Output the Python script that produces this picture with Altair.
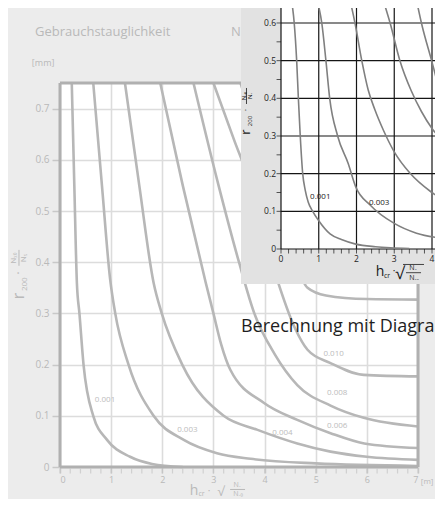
import altair as alt
import pandas as pd

# ---------------- background diagram (faded "Gebrauchstauglichkeit") ----------------
bg_curve_names = ["0.001", "0.003", "0.004", "0.006", "0.008", "0.010", "0.015"]
bg_x = [
    [0.23, 0.28, 0.33, 0.38, 0.46, 0.65, 0.92, 1.37, 1.80, 2.40],
    [0.65, 0.82, 0.98, 1.08, 1.34, 1.83, 2.42, 3.07, 3.73, 5.00, 7.00],
    [1.27, 1.55, 1.83, 1.99, 2.39, 3.20, 3.85, 4.64, 5.29, 6.00, 7.00],
    [1.96, 2.40, 2.85, 3.00, 3.15, 3.33, 3.99, 4.64, 5.29, 5.95, 7.00],
    [2.61, 3.10, 3.50, 3.80, 4.20, 4.64, 5.29, 5.94, 7.00],
    [3.00, 3.40, 3.73, 4.00, 4.30, 4.60, 4.84, 5.29, 5.94, 7.00],
    [3.53, 4.00, 4.30, 4.60, 4.84, 5.20, 6.00, 7.00],
]
bg_y = [
    [0.75, 0.55, 0.36, 0.30, 0.20, 0.10, 0.053, 0.020, 0.006, 0.0],
    [0.75, 0.55, 0.367, 0.30, 0.20, 0.10, 0.053, 0.027, 0.016, 0.007, 0.002],
    [0.75, 0.55, 0.36, 0.30, 0.20, 0.10, 0.073, 0.046, 0.030, 0.020, 0.014],
    [0.75, 0.55, 0.36, 0.30, 0.24, 0.19, 0.125, 0.092, 0.066, 0.046, 0.037],
    [0.75, 0.55, 0.40, 0.30, 0.22, 0.16, 0.12, 0.096, 0.079],
    [0.75, 0.64, 0.55, 0.45, 0.35, 0.27, 0.229, 0.203, 0.18, 0.177],
    [0.75, 0.60, 0.50, 0.40, 0.35, 0.335, 0.328, 0.327],
]
bg_label_text = ["0.001", "0.003", "0.004", "0.006", "0.008", "0.010"]
bg_label_x = [0.88, 2.49, 4.35, 5.42, 5.42, 5.35]
bg_label_y = [0.131, 0.073, 0.067, 0.080, 0.145, 0.220]
bg_x_ticks = [0, 1, 2, 3, 4, 5, 6, 7]
bg_y_ticks = [0, 0.1, 0.2, 0.3, 0.4, 0.5, 0.6, 0.7]
bg_minor_x = [round(i * 0.2, 1) for i in range(36)]
bg_x_domain = [0, 7]
bg_y_domain = [0, 0.75]

# ---------------- inset diagram (sharp) ----------------
in_curve_names = ["0.001", "0.003", "0.004", "0.006", "0.008"]
in_x = [
    [0.28, 0.35, 0.415, 0.46, 0.51, 0.575, 0.64, 0.72, 0.84, 1.00, 1.30, 1.60, 1.98, 2.50, 2.90, 3.40],
    [0.96, 1.08, 1.19, 1.29, 1.50, 1.78, 1.98, 2.36, 3.00, 3.59, 4.30],
    [1.83, 1.96, 2.14, 2.31, 2.49, 2.71, 3.00, 3.42, 3.97, 4.30],
    [2.71, 2.89, 3.15, 3.45, 3.72, 4.00, 4.30],
    [3.59, 3.72, 3.99, 4.26, 4.40],
]
in_y = [
    [0.66, 0.60, 0.50, 0.40, 0.30, 0.20, 0.157, 0.125, 0.10, 0.075, 0.040, 0.025, 0.013, 0.006, 0.003, 0.001],
    [0.66, 0.60, 0.50, 0.40, 0.30, 0.227, 0.165, 0.117, 0.068, 0.042, 0.028],
    [0.66, 0.60, 0.50, 0.422, 0.369, 0.316, 0.258, 0.201, 0.152, 0.13],
    [0.66, 0.60, 0.50, 0.42, 0.365, 0.32, 0.285],
    [0.66, 0.60, 0.50, 0.40, 0.36],
]
in_label_text = ["0.001", "0.003"]
in_label_x = [0.77, 2.33]
in_label_y = [0.138, 0.123]
in_grid_x = [0, 1, 2, 3, 4]
in_grid_y = [0, 0.1, 0.2, 0.3, 0.4, 0.5, 0.6, 0.7]
in_tick_label_x = ["0", "1", "2", "3", "4"]
in_tick_label_y = ["0", "0.1", "0.2", "0.3", "0.4", "0.5", "0.6"]
in_minor_x = [round(i * 0.2, 1) for i in range(23)]
in_minor_y = [round(i * 0.05, 2) for i in range(14)]
in_x_domain = [-5.8543, 3.6291]
in_y_domain = [-0.57871, 0.44067]
in_panel = {"x": -1.06, "x2": 4.6, "y": -0.093, "y2": 0.8}
in_plot = {"x": 0, "x2": 4.6, "y": 0, "y2": 0.8}

caption = "Berechnung mit Diagra"

FONT = "Open Sans"
BG_TEXT = "#b9b9b9"

MX = alt.Scale(domain=bg_x_domain, nice=False, zero=False)
MY = alt.Scale(domain=bg_y_domain, nice=False, zero=False)
IX = alt.Scale(domain=in_x_domain, nice=False, zero=False)
IY = alt.Scale(domain=in_y_domain, nice=False, zero=False)


def curves_df(names, xs, ys):
    rows = []
    for name, cx, cy in zip(names, xs, ys):
        for i, (a, b) in enumerate(zip(cx, cy)):
            rows.append({"curve": name, "order": i, "x": a, "y": b})
    return pd.DataFrame(rows)


def mx(f):
    return alt.X(f, scale=MX, axis=None)


def my(f):
    return alt.Y(f, scale=MY, axis=None)


def ix(f):
    return alt.X(f, scale=IX, axis=None)


def iy(f):
    return alt.Y(f, scale=IY, axis=None)


# ---------- background layers ----------
bg_lines = alt.Chart(curves_df(bg_curve_names, bg_x, bg_y)).mark_line(
    color="#b7b7b7", strokeWidth=2.6, interpolate="monotone"
).encode(
    x=alt.X("x:Q", scale=MX, axis=alt.Axis(
        values=bg_x_ticks, grid=True, gridColor="#dcdcdc", gridWidth=1.6, domain=False,
        tickColor="#c8c8c8", tickSize=6, tickWidth=1.5, labelColor=BG_TEXT, labelFont=FONT,
        labelFontSize=9, labelPadding=2, title=None)),
    y=alt.Y("y:Q", scale=MY, axis=alt.Axis(
        values=bg_y_ticks, grid=True, gridColor="#dcdcdc", gridWidth=1.6, domain=False,
        tickColor="#c8c8c8", tickSize=8, tickWidth=1.5, labelColor=BG_TEXT, labelFont=FONT,
        labelFontSize=10, labelPadding=3, title=None,
        labelExpr="datum.value == 0 ? '0' : format(datum.value, '.1f')")),
    detail="curve:N",
    order="order:Q",
)

frame_df = pd.DataFrame([
    {"x": bg_x_domain[0], "x2": bg_x_domain[1], "y": bg_y_domain[0], "y2": bg_y_domain[0]},
    {"x": bg_x_domain[0], "x2": bg_x_domain[1], "y": bg_y_domain[1], "y2": bg_y_domain[1]},
    {"x": bg_x_domain[0], "x2": bg_x_domain[0], "y": bg_y_domain[0], "y2": bg_y_domain[1]},
    {"x": bg_x_domain[1], "x2": bg_x_domain[1], "y": bg_y_domain[0], "y2": bg_y_domain[1]},
])
bg_frame = alt.Chart(frame_df).mark_rule(color="#b0b0b0", strokeWidth=3).encode(
    x=mx("x:Q"), x2="x2:Q", y=my("y:Q"), y2="y2:Q",
)

bg_minor = alt.Chart(pd.DataFrame({"x": bg_minor_x, "y": 0})).mark_tick(
    orient="vertical", size=5, thickness=1.2, color="#c4c4c4", yOffset=4
).encode(x=mx("x:Q"), y=my("y:Q"))

bg_lab = alt.Chart(pd.DataFrame({"t": bg_label_text, "x": bg_label_x, "y": bg_label_y})).mark_text(
    font=FONT, fontSize=8, color="#bcbcbc"
).encode(x=mx("x:Q"), y=my("y:Q"), text="t:N")

bg_ann_df = pd.DataFrame([
    {"t": "Gebrauchstauglichkeit", "x": -0.489, "y": 0.850, "s": 13, "a": 0},
    {"t": "N", "x": 3.344, "y": 0.850, "s": 13, "a": 0},
    {"t": "[mm]", "x": -0.55, "y": 0.789, "s": 9, "a": 0},
    {"t": "[m]", "x": 7.055, "y": -0.029, "s": 8, "a": 0},
])
bg_ann = alt.Chart(bg_ann_df).mark_text(
    font=FONT, color=BG_TEXT, align="left", baseline="middle"
).encode(
    x=mx("x:Q"), y=my("y:Q"), text="t:N",
    size=alt.Size("s:Q", scale=None), angle=alt.Angle("a:Q", scale=None),
)
bg_formula_df = pd.DataFrame([
    {"t": "h", "x": 2.620, "y": -0.0469, "s": 14, "a": 0},
    {"t": "cr", "x": 2.767, "y": -0.0527, "s": 7, "a": 0},
    {"t": "·", "x": 2.914, "y": -0.0469, "s": 10, "a": 0},
    {"t": "√", "x": 3.148, "y": -0.0488, "s": 13, "a": 0},
    {"t": "Nₓ", "x": 3.462, "y": -0.0352, "s": 7, "a": 0},
    {"t": "Nₓ₀", "x": 3.482, "y": -0.0527, "s": 7, "a": 0},
    {"t": "r", "x": -0.802, "y": 0.334, "s": 16, "a": 270},
    {"t": "200", "x": -0.684, "y": 0.357, "s": 8, "a": 270},
    {"t": "·", "x": -0.802, "y": 0.379, "s": 12, "a": 270},
    {"t": "Nₓ₀", "x": -0.8995, "y": 0.408, "s": 8, "a": 270},
    {"t": "Nₓ", "x": -0.704, "y": 0.408, "s": 8, "a": 270},
])
bg_formula = alt.Chart(bg_formula_df).mark_text(font=FONT, color=BG_TEXT).encode(
    x=mx("x:Q"), y=my("y:Q"), text="t:N",
    size=alt.Size("s:Q", scale=None), angle=alt.Angle("a:Q", scale=None),
)
bg_bars_df = pd.DataFrame([
    {"x": 3.326, "x2": 3.618, "y": -0.0439, "y2": -0.0439},
    {"x": -0.802, "x2": -0.802, "y": 0.393, "y2": 0.424},
])
bg_bars = alt.Chart(bg_bars_df).mark_rule(color=BG_TEXT, strokeWidth=1).encode(
    x=mx("x:Q"), x2="x2:Q", y=my("y:Q"), y2="y2:Q",
)

# ---------- inset layers ----------
in_panel_l = alt.Chart(pd.DataFrame([in_panel])).mark_rect(color="#e2e2e2").encode(
    x=ix("x:Q"), x2="x2:Q", y=iy("y:Q"), y2="y2:Q",
)
in_plot_l = alt.Chart(pd.DataFrame([in_plot])).mark_rect(color="white").encode(
    x=ix("x:Q"), x2="x2:Q", y=iy("y:Q"), y2="y2:Q",
)
gx = pd.DataFrame({"x": in_grid_x, "y": 0, "y2": 0.8})
gy = pd.DataFrame({"y": in_grid_y, "x": 0, "x2": 4.6})
in_gx = alt.Chart(gx).mark_rule(color="#151515", strokeWidth=1.2).encode(
    x=ix("x:Q"), y=iy("y:Q"), y2="y2:Q")
in_gy = alt.Chart(gy).mark_rule(color="#151515", strokeWidth=1.2).encode(
    x=ix("x:Q"), x2="x2:Q", y=iy("y:Q"))
in_tx = alt.Chart(pd.DataFrame({"x": in_minor_x, "y": 0})).mark_tick(
    orient="vertical", size=4.5, thickness=1, color="#151515", yOffset=2.2
).encode(x=ix("x:Q"), y=iy("y:Q"))
in_ty = alt.Chart(pd.DataFrame({"y": in_minor_y, "x": 0})).mark_tick(
    orient="horizontal", size=4.5, thickness=1, color="#151515", xOffset=-2.2
).encode(x=ix("x:Q"), y=iy("y:Q"))

in_lines = alt.Chart(curves_df(in_curve_names, in_x, in_y)).mark_line(
    color="#808080", strokeWidth=1.6, interpolate="monotone"
).encode(x=ix("x:Q"), y=iy("y:Q"), detail="curve:N", order="order:Q")
in_lab = alt.Chart(pd.DataFrame({"t": in_label_text, "x": in_label_x, "y": in_label_y})).mark_text(
    font=FONT, fontSize=8, color="#222222", align="left"
).encode(x=ix("x:Q"), y=iy("y:Q"), text="t:N")

in_xl = alt.Chart(pd.DataFrame({"t": in_tick_label_x, "x": in_grid_x, "y": 0})).mark_text(
    font=FONT, fontSize=8.5, color="#222222", baseline="top", dy=6
).encode(x=ix("x:Q"), y=iy("y:Q"), text="t:N")
in_yl = alt.Chart(pd.DataFrame({"t": in_tick_label_y, "y": in_grid_y[:7], "x": 0})).mark_text(
    font=FONT, fontSize=8.5, color="#222222", align="right", dx=-5
).encode(x=ix("x:Q"), y=iy("y:Q"), text="t:N")

in_ann_df = pd.DataFrame([
    {"t": "h", "x": 2.623, "y": -0.0611, "s": 14, "a": 0},
    {"t": "cr", "x": 2.808, "y": -0.0717, "s": 7, "a": 0},
    {"t": "·", "x": 2.993, "y": -0.0584, "s": 10, "a": 0},
    {"t": "√", "x": 3.152, "y": -0.0664, "s": 17, "a": 0},
    {"t": "Nₓ", "x": 3.497, "y": -0.0504, "s": 7, "a": 0},
    {"t": "Nₓₒ", "x": 3.523, "y": -0.0783, "s": 7, "a": 0},
    {"t": "r", "x": -0.927, "y": 0.3106, "s": 13, "a": 270},
    {"t": "200", "x": -0.821, "y": 0.3398, "s": 6, "a": 270},
    {"t": "·", "x": -0.927, "y": 0.369, "s": 9, "a": 270},
    {"t": "Nₓ₀", "x": -0.993, "y": 0.4062, "s": 6, "a": 270},
    {"t": "Nₓ", "x": -0.834, "y": 0.4062, "s": 6, "a": 270},
])
in_ann = alt.Chart(in_ann_df).mark_text(font=FONT, color="#1a1a1a").encode(
    x=ix("x:Q"), y=iy("y:Q"), text="t:N",
    size=alt.Size("s:Q", scale=None), angle=alt.Angle("a:Q", scale=None),
)
in_bars_df = pd.DataFrame([
    {"x": 3.232, "x2": 3.788, "y": -0.0411, "y2": -0.0411},
    {"x": 3.311, "x2": 3.709, "y": -0.0629, "y2": -0.0629},
    {"x": -0.914, "x2": -0.914, "y": 0.3849, "y2": 0.4274},
])
in_bars = alt.Chart(in_bars_df).mark_rule(color="#1a1a1a", strokeWidth=0.8).encode(
    x=ix("x:Q"), x2="x2:Q", y=iy("y:Q"), y2="y2:Q",
)

cap = alt.Chart(pd.DataFrame({"t": [caption], "x": [3.539], "y": [0.2637]})).mark_text(
    font=FONT, fontSize=18, color="#1e1e1e", align="left", baseline="alphabetic"
).encode(x=mx("x:Q"), y=my("y:Q"), text="t:N")

chart = alt.layer(
    bg_lines, bg_frame, bg_minor, bg_lab, bg_ann, bg_formula, bg_bars,
    in_panel_l, in_plot_l, in_gx, in_gy, in_tx, in_ty, in_lines, in_lab, in_xl, in_yl,
    in_ann, in_bars, cap,
).resolve_scale(x="independent", y="independent").properties(
    width=358, height=384,
    padding={"left": 52, "top": 75, "right": 17, "bottom": 32},
    autosize=alt.AutoSizeParams(type="none"),
    background="#ececec",
).configure_view(fill="white", stroke=None)

chart.save("out.html", embed_options={"renderer": "svg", "actions": False})
